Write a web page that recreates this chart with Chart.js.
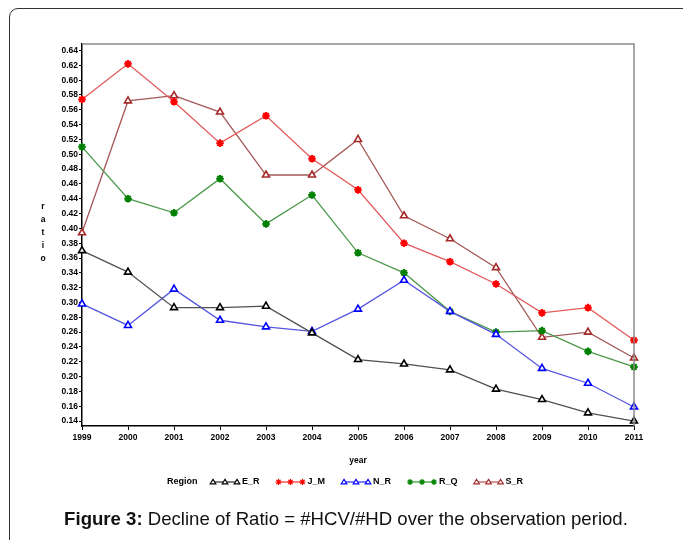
<!DOCTYPE html>
<html><head><meta charset="utf-8">
<script src="https://cdn.jsdelivr.net/npm/chart.js@4"></script>
<style>
html,body{margin:0;padding:0;background:#fff;width:683px;height:540px;overflow:hidden;position:relative;font-family:"Liberation Sans",Arial,sans-serif}
#frame{position:absolute;left:9px;top:8px;width:800px;height:700px;border:1px solid #333;border-top-left-radius:9px;box-sizing:border-box}
#c{position:absolute;left:0;top:0}
#cap{position:absolute;left:0;width:692px;top:508px;text-align:center;font-size:18.6px;line-height:22px;color:#111;white-space:nowrap}
</style></head><body>
<div id="frame"></div>
<canvas id="c" width="683" height="540"></canvas>
<div id="cap"><b>Figure 3:</b> Decline of Ratio = #HCV/#HD over the observation period.</div>
<script>
const years = ['1999','2000','2001','2002','2003','2004','2005','2006','2007','2008','2009','2010','2011'];
const E_R = [0.370,0.341,0.293,0.293,0.295,0.259,0.223,0.217,0.209,0.183,0.169,0.151,0.140];
const J_M = [0.574,0.622,0.571,0.515,0.552,0.494,0.452,0.380,0.355,0.325,0.286,0.293,0.249];
const N_R = [0.298,0.269,0.318,0.276,0.267,0.261,0.291,0.330,0.288,0.257,0.211,0.191,0.159];
const R_Q = [0.510,0.440,0.421,0.467,0.406,0.445,0.367,0.340,0.288,0.260,0.262,0.234,0.213];
const S_R = [0.394,0.572,0.579,0.557,0.472,0.472,0.520,0.417,0.386,0.347,0.253,0.260,0.225];
const yTicks = [0.14,0.16,0.18,0.20,0.22,0.24,0.26,0.28,0.30,0.32,0.34,0.36,0.38,0.40,0.42,0.44,0.46,0.48,0.50,0.52,0.54,0.56,0.58,0.60,0.62,0.64];
const seriesNames = ['E_R','J_M','N_R','R_Q','S_R'];
const xTitle = 'year';
const yTitle = 'ratio';
const legendTitle = 'Region';

const styles = {
  E_R:{line:'#505050', pt:'#000000', shape:'triangle'},
  J_M:{line:'#e45a5a', pt:'#ff0000', shape:'star'},
  N_R:{line:'#5656e0', pt:'#0000ff', shape:'triangle'},
  R_Q:{line:'#4a984a', pt:'#008000', shape:'star'},
  S_R:{line:'#a45858', pt:'#a52a2a', shape:'triangle'}
};
const seriesData = {E_R, J_M, N_R, R_Q, S_R};
const FONT = '"Liberation Sans", Arial, sans-serif';

function drawShape(ctx, shape, x, y, r, color){
  ctx.save();
  ctx.strokeStyle=color; ctx.lineWidth=1.2; ctx.fillStyle='#fff';
  ctx.beginPath();
  if(shape==='triangle'){
    const h=r*1.6;
    ctx.moveTo(x, y-h*0.6); ctx.lineTo(x+r, y+h*0.4); ctx.lineTo(x-r, y+h*0.4); ctx.closePath();
    ctx.fill(); ctx.stroke();
  } else {
    for(let i=0;i<4;i++){
      const a=i*Math.PI/4;
      ctx.moveTo(x-Math.cos(a)*r, y-Math.sin(a)*r); ctx.lineTo(x+Math.cos(a)*r, y+Math.sin(a)*r);
    }
    ctx.stroke();
  }
  ctx.restore();
}

const extras = {
  id:'extras',
  afterDraw(chart){
    const ctx=chart.ctx, a=chart.chartArea;
    ctx.save();
    ctx.strokeStyle='#8a8a8a'; ctx.lineWidth=1.5;
    ctx.beginPath(); ctx.moveTo(a.left,a.top); ctx.lineTo(a.right,a.top); ctx.lineTo(a.right,a.bottom); ctx.stroke();
    ctx.fillStyle='#000'; ctx.font='bold 8.5px '+FONT; ctx.textAlign='center'; ctx.textBaseline='middle';
    const letters=yTitle.split('');
    const cy=(a.top+a.bottom)/2 - 2, step=13;
    letters.forEach((ch,i)=>ctx.fillText(ch, 43, cy + (i-(letters.length-1)/2)*step));
    ctx.fillText(xTitle, (a.left+a.right)/2, 461);
    // legend
    const ly=482;
    ctx.font='bold 9px '+FONT;
    ctx.textAlign='left';
    ctx.fillText(legendTitle, 167, ly);
    let x=213;
    seriesNames.forEach(n=>{
      const s=styles[n];
      ctx.strokeStyle=s.pt; ctx.lineWidth=1;
      ctx.beginPath(); ctx.moveTo(x,ly); ctx.lineTo(x+24,ly); ctx.stroke();
      [0,12,24].forEach(d=>drawShape(ctx,s.shape,x+d,ly,s.shape==='star'?3:2.8,s.pt));
      ctx.fillStyle='#000';
      ctx.fillText(n, x+29, ly);
      x = x+29+ctx.measureText(n).width+19;
    });
    ctx.restore();
  }
};

new Chart(document.getElementById('c'), {
  type:'line',
  data:{
    labels: years,
    datasets: seriesNames.map(n=>({
      label:n,
      data:seriesData[n],
      borderColor:styles[n].line,
      borderWidth:1.3,
      pointStyle:styles[n].shape,
      pointRadius:styles[n].shape==='star'?3.8:4,
      pointBorderColor:styles[n].pt,
      pointBackgroundColor:'#ffffff',
      pointBorderWidth:styles[n].shape==='star'?2:1.6,
      tension:0,
      fill:false
    }))
  },
  options:{
    responsive:false,
    animation:false,
    devicePixelRatio:1,
    layout:{padding:{left:0, top:44, right:49, bottom:92}},
    plugins:{legend:{display:false}, tooltip:{enabled:false}, title:{display:false}},
    scales:{
      x:{
        type:'category',
        offset:false,
        afterFit(s){ s.height=22; },
        grid:{drawOnChartArea:false, drawTicks:true, tickLength:4, color:'#000', tickColor:'#000'},
        border:{display:true, color:'#000', width:1.5},
        ticks:{color:'#000', font:{family:FONT, size:8.5, weight:'bold'}, padding:3, maxRotation:0, autoSkip:false}
      },
      y:{
        type:'linear',
        min:0.1333, max:0.6488,
        afterFit(s){ s.width=82; },
        afterBuildTicks(s){ s.ticks = yTicks.map(v=>({value:v})); },
        grid:{drawOnChartArea:false, drawTicks:true, tickLength:3, color:'#000', tickColor:'#000'},
        border:{display:true, color:'#000', width:1.5},
        ticks:{color:'#000', font:{family:FONT, size:8.5, weight:'bold'}, padding:1, callback:(v)=>Number(v).toFixed(2)}
      }
    }
  },
  plugins:[extras]
});
</script>
</body></html>
